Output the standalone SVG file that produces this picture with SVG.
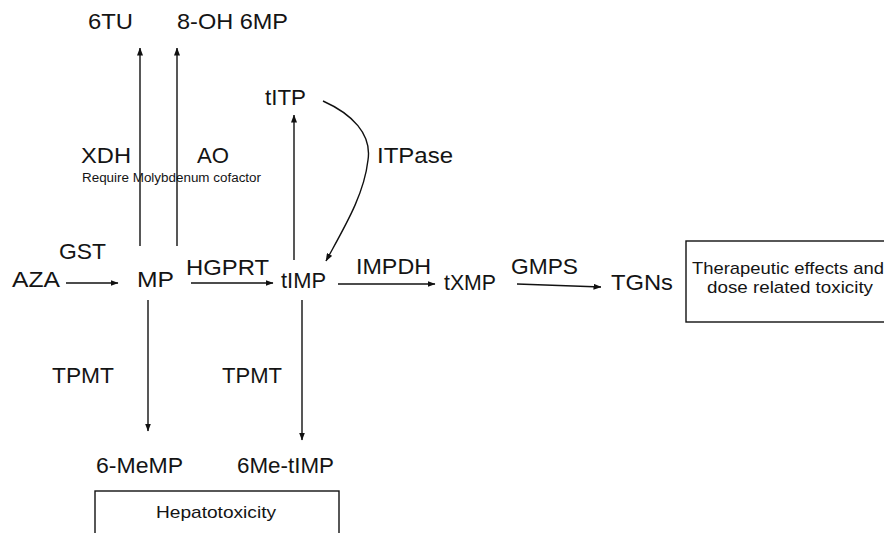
<svg xmlns="http://www.w3.org/2000/svg" width="884" height="533" viewBox="0 0 884 533">
<defs>
<marker id="ah" markerWidth="8" markerHeight="6" refX="7.5" refY="3" orient="auto" markerUnits="userSpaceOnUse">
<path d="M0,0 L8,3 L0,6 z" fill="#111"/>
</marker>
<style>
.t{font-family:"Liberation Sans",Arial,sans-serif;font-size:22px;fill:#141414}
.s{font-family:"Liberation Sans",Arial,sans-serif;font-size:12px;fill:#141414}
.m{font-family:"Liberation Sans",Arial,sans-serif;font-size:17px;fill:#141414}
.c{fill:none;stroke:#111;stroke-width:1.4;marker-end:url(#ah)}
.b{fill:#fff;stroke:#111;stroke-width:1.4}
</style>
</defs>
<rect width="884" height="533" fill="#fff"/>
<g id="connectors">
<path class="c" d="M66,283 H118"/>
<path class="c" d="M191,283 H273"/>
<path class="c" d="M140,246 V48"/>
<path class="c" d="M177,246 V48"/>
<path class="c" d="M294,260 V115"/>
<path class="c" d="M323,101 C352,114 372,134 368,160 C364,195 345,226 326,261"/>
<path class="c" d="M338,284 H435"/>
<path class="c" d="M517,284 L601,287"/>
<path class="c" d="M148,300 V431"/>
<path class="c" d="M302,300 V440"/>
</g>
<g id="edge-labels">
<text class="t" x="59" y="259" textLength="47" lengthAdjust="spacingAndGlyphs">GST</text>
<text class="t" x="186" y="275" textLength="83" lengthAdjust="spacingAndGlyphs">HGPRT</text>
<text class="t" x="81" y="163" textLength="50" lengthAdjust="spacingAndGlyphs">XDH</text>
<text class="t" x="197" y="163" textLength="32" lengthAdjust="spacingAndGlyphs">AO</text>
<text class="s" x="82" y="182" textLength="179" lengthAdjust="spacingAndGlyphs">Require Molybdenum cofactor</text>
<text class="t" x="377" y="163" textLength="76" lengthAdjust="spacingAndGlyphs">ITPase</text>
<text class="t" x="356" y="274" textLength="75" lengthAdjust="spacingAndGlyphs">IMPDH</text>
<text class="t" x="511" y="274" textLength="67" lengthAdjust="spacingAndGlyphs">GMPS</text>
<text class="t" x="52" y="383" textLength="62" lengthAdjust="spacingAndGlyphs">TPMT</text>
<text class="t" x="222" y="383" textLength="60" lengthAdjust="spacingAndGlyphs">TPMT</text>
</g>
<g id="n-6TU"><text class="t" x="88" y="29" textLength="45" lengthAdjust="spacingAndGlyphs">6TU</text></g>
<g id="n-8OH6MP"><text class="t" x="177" y="29" textLength="111" lengthAdjust="spacingAndGlyphs">8-OH 6MP</text></g>
<g id="n-tITP"><text class="t" x="265" y="105" textLength="41" lengthAdjust="spacingAndGlyphs">tITP</text></g>
<g id="n-AZA"><text class="t" x="12" y="287" textLength="48" lengthAdjust="spacingAndGlyphs">AZA</text></g>
<g id="n-MP"><text class="t" x="137" y="287" textLength="37" lengthAdjust="spacingAndGlyphs">MP</text></g>
<g id="n-tIMP"><text class="t" x="281" y="288" textLength="45" lengthAdjust="spacingAndGlyphs">tIMP</text></g>
<g id="n-tXMP"><text class="t" x="444" y="290" textLength="52" lengthAdjust="spacingAndGlyphs">tXMP</text></g>
<g id="n-TGNs"><text class="t" x="611" y="290" textLength="62" lengthAdjust="spacingAndGlyphs">TGNs</text></g>
<g id="n-therapeutic">
<rect class="b" x="686" y="241" width="210" height="81"/>
<text class="m" x="692" y="274" textLength="192" lengthAdjust="spacingAndGlyphs">Therapeutic  effects and</text>
<text class="m" x="707" y="293" textLength="166" lengthAdjust="spacingAndGlyphs">dose related  toxicity</text>
</g>
<g id="n-6MeMP"><text class="t" x="96" y="473" textLength="87" lengthAdjust="spacingAndGlyphs">6-MeMP</text></g>
<g id="n-6MetIMP"><text class="t" x="237" y="473" textLength="97" lengthAdjust="spacingAndGlyphs">6Me-tIMP</text></g>
<g id="n-hepatotoxicity">
<rect class="b" x="95" y="491" width="244" height="60"/>
<text class="m" x="156" y="518" textLength="120" lengthAdjust="spacingAndGlyphs">Hepatotoxicity</text>
</g>
</svg>
